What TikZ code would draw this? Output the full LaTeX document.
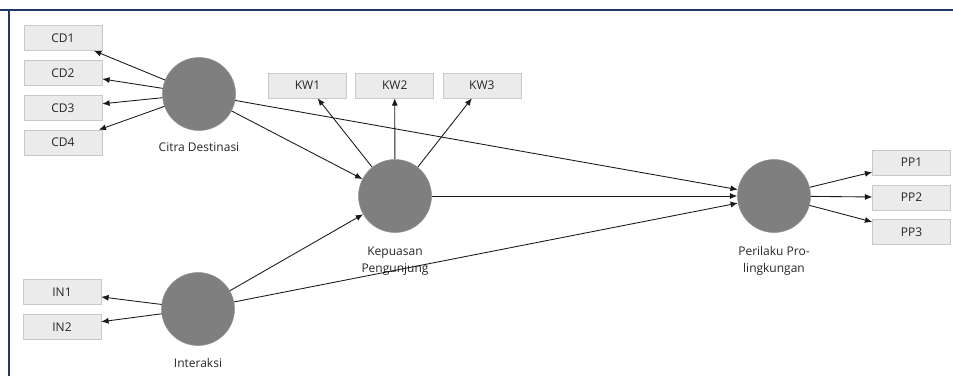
\documentclass[tikz,border=0pt]{standalone}
\usepackage{fontspec}
\setmainfont{Open Sans}
\usetikzlibrary{positioning,arrows.meta}
\definecolor{framenavy}{HTML}{1F3864}
\definecolor{latentgray}{HTML}{7F7F7F}
\definecolor{itemfill}{HTML}{EBEBEB}
\definecolor{itemdraw}{HTML}{C8C8C8}
\definecolor{textgray}{HTML}{262626}

\begin{document}
\begin{tikzpicture}[x=0.75pt,y=-0.75pt,
  latent/.style={circle, fill=latentgray, draw=latentgray!85, minimum size=54.75pt, inner sep=0pt},
  indicator/.style={rectangle, fill=itemfill, draw=itemdraw, minimum width=58.5pt, minimum height=18.75pt, inner sep=0pt, text=textgray, font=\fontsize{9}{10}\selectfont},
  lvname/.style={align=center, inner sep=0pt, text=textgray, font=\fontsize{9}{12.75}\selectfont},
  link/.style={-{Latex[length=5.5pt,width=4.5pt]}, line width=0.65pt, draw=black!90}]

\useasboundingbox (0,0) rectangle (953,376);

% FRAME
\draw[framenavy, line width=1.8pt] (0,10) -- (953,10);
\draw[framenavy, line width=2pt] (9,10) -- (9,376);

% CONSTRUCTS

\node[latent] (citra) at (199,94) {};
\node[lvname, below=8.5pt of citra] (citra-nama) {Citra Destinasi};

\node[latent] (interaksi) at (198,309) {};
\node[lvname, below=9.5pt of interaksi] (interaksi-nama) {Interaksi};

\node[latent] (kepuasan) at (395,196) {};
\node[lvname, below=10.5pt of kepuasan] (kepuasan-nama) {Kepuasan\\Pengunjung};

\node[latent] (perilaku) at (774,196) {};
\node[lvname, below=10pt of perilaku] (perilaku-nama) {Perilaku Pro-\\lingkungan};

% INDICATORS

\node[indicator] (cd1) at (63,38) {CD1};
\node[indicator, below=7pt of cd1] (cd2) {CD2};
\node[indicator, below=7pt of cd2] (cd3) {CD3};
\node[indicator, below=7pt of cd3] (cd4) {CD4};

\node[indicator] (in1) at (62,292) {IN1};
\node[indicator, below=7pt of in1] (in2) {IN2};

\node[indicator] (kw1) at (307.5,85.5) {KW1};
\node[indicator, right=6.5pt of kw1] (kw2) {KW2};
\node[indicator, right=6.5pt of kw2] (kw3) {KW3};

\node[indicator] (pp1) at (911.5,162.5) {PP1};
\node[indicator, below=7pt of pp1] (pp2) {PP2};
\node[indicator, below=7pt of pp2] (pp3) {PP3};

% LOADINGS

\foreach \item in {cd1,cd2,cd3,cd4} \draw[link] (citra) -- (\item);
\foreach \item in {in1,in2} \draw[link] (interaksi) -- (\item);
\foreach \item in {kw1,kw2,kw3} \draw[link] (kepuasan) -- (\item);
\foreach \item in {pp1,pp2,pp3} \draw[link] (perilaku) -- (\item);

% PATHS

\draw[link] (citra) -- (kepuasan);
\draw[link] (citra) -- (perilaku);
\draw[link] (interaksi) -- (kepuasan);
\draw[link] (interaksi) -- (perilaku);
\draw[link] (kepuasan) -- (perilaku);

\end{tikzpicture}
\end{document}
